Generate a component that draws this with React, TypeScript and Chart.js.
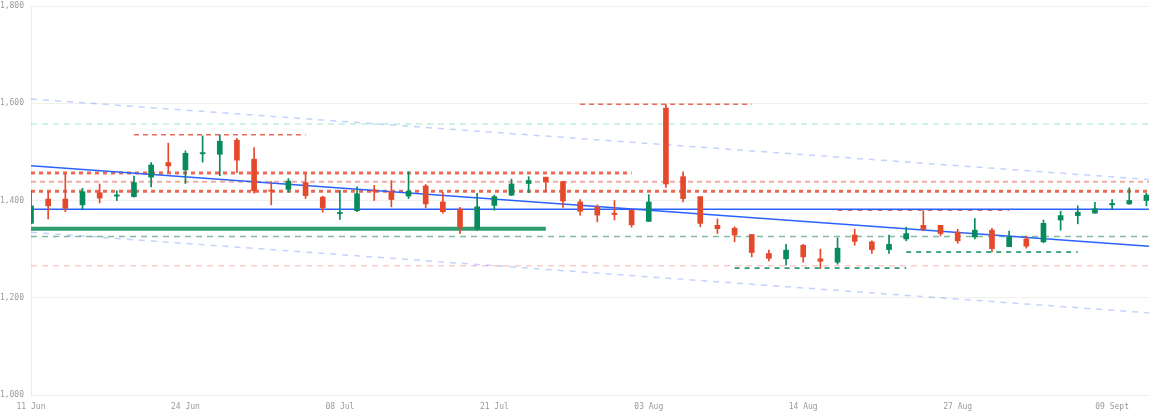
import React, { useEffect, useRef } from "react";
import { Chart, registerables } from "chart.js";

Chart.register(...registerables);

// ---- tick labels (one every 9 sessions) ----
const tickLabels = ["11 Jun", "24 Jun", "08 Jul", "21 Jul", "03 Aug", "14 Aug", "27 Aug", "09 Sept"];
const tickEvery = 9;

// ---- OHLC series ----
const opens = [
  1353, 1403, 1403, 1391, 1416, 1409, 1408, 1448, 1478, 1463,
  1496, 1495, 1524, 1485, 1421, 1423, 1437, 1407, 1373, 1379,
  1421, 1418, 1409, 1430, 1397, 1382, 1342, 1390, 1411, 1435,
  1448, 1439, 1397, 1387, 1374, 1380, 1357, 1590, 1449, 1408,
  1349, 1343, 1330, 1291, 1280, 1308, 1280, 1273, 1329, 1315,
  1299, 1321, 1349, 1349, 1335, 1325, 1339, 1305, 1321, 1315,
  1360, 1369, 1374, 1391, 1393, 1400,
];
const highs = [
  1420, 1418, 1457, 1425, 1434, 1420, 1450, 1478, 1518, 1502,
  1533, 1535, 1528, 1509, 1439, 1445, 1457, 1409, 1421, 1428,
  1431, 1441, 1459, 1433, 1417, 1386, 1415, 1411, 1444, 1449,
  1448, 1439, 1402, 1391, 1400, 1381, 1412, 1597, 1459, 1408,
  1362, 1346, 1330, 1298, 1310, 1310, 1300, 1323, 1341, 1317,
  1329, 1345, 1379, 1349, 1341, 1363, 1343, 1337, 1327, 1360,
  1378, 1389, 1396, 1402, 1426, 1415,
];
const lows = [
  1352, 1362, 1377, 1382, 1395, 1400, 1407, 1428, 1459, 1435,
  1479, 1451, 1457, 1415, 1391, 1417, 1404, 1376, 1361, 1377,
  1400, 1387, 1404, 1385, 1374, 1332, 1339, 1380, 1410, 1416,
  1418, 1386, 1370, 1356, 1360, 1345, 1357, 1427, 1397, 1346,
  1332, 1315, 1284, 1276, 1267, 1273, 1260, 1269, 1308, 1291,
  1291, 1317, 1338, 1327, 1312, 1321, 1294, 1305, 1302, 1313,
  1339, 1352, 1374, 1382, 1392, 1389,
];
const closes = [
  1389, 1389, 1384, 1418, 1405, 1411, 1437, 1473, 1471, 1497,
  1498, 1522, 1483, 1420, 1419, 1440, 1410, 1385, 1375, 1414,
  1419, 1402, 1419, 1393, 1377, 1345, 1387, 1408, 1434, 1441,
  1438, 1399, 1378, 1370, 1371, 1350, 1397, 1434, 1404, 1353,
  1342, 1329, 1293, 1281, 1298, 1284, 1275, 1302, 1316, 1299,
  1310, 1332, 1341, 1332, 1317, 1339, 1301, 1325, 1306, 1353,
  1369, 1376, 1383, 1394, 1400, 1411,
];

// ---- trend channel (values at first and last session) ----
const trendLine = [1471.6, 1306.4];
const channelUpper = [1608.7, 1443.6];
const channelLower = [1334.6, 1169.3];

// ---- horizontal levels: value, first session, last session (-1 = to the end) ----
const levelValues = [1557.3, 1456.6, 1438.7, 1419, 1382, 1342, 1326, 1266, 1535, 1598, 1380.5, 1261, 1294];
const levelFrom = [0, 0, 0, 0, 0, 0, 0, 0, 6, 32, 47, 41, 51];
const levelTo = [-1, 35, -1, -1, -1, 30, -1, -1, 16, 42, 57, 51, 61];

const UP = "#078a5c";
const DOWN = "#e5492c";
const BLUE = "#2962ff";

const levelStyles = [
  { color: "rgba(110,215,180,0.45)", width: 1.5, dash: [6, 5] },
  { color: "rgba(232,80,55,0.85)", width: 3, dash: [4, 4] },
  { color: "rgba(232,90,70,0.5)", width: 2, dash: [5, 4] },
  { color: "rgba(232,80,55,0.85)", width: 3, dash: [4, 4] },
  { color: BLUE, width: 1.5, dash: [] },
  { color: "#2e9b6d", width: 4, dash: [] },
  { color: "rgba(30,130,90,0.55)", width: 1.5, dash: [6, 5] },
  { color: "rgba(240,110,110,0.35)", width: 1.5, dash: [6, 5] },
  { color: "rgba(232,80,55,0.85)", width: 1.5, dash: [5, 4] },
  { color: "rgba(232,80,55,0.85)", width: 1.5, dash: [5, 4] },
  { color: "rgba(190,50,60,0.7)", width: 2, dash: [5, 5] },
  { color: "#0e8a5f", width: 1.5, dash: [5, 5] },
  { color: "#0e8a5f", width: 1.5, dash: [5, 5] },
];

export default function App() {
  const ref = useRef<HTMLCanvasElement | null>(null);

  useEffect(() => {
    document.body.style.margin = "0";
    const canvas = ref.current;
    if (!canvas) return;
    const lastIdx = opens.length - 1;
    const xMax = lastIdx + 0.15;
    const colors = opens.map((o, i) => (closes[i] >= o ? UP : DOWN));

    const datasets: any[] = [];

    // candle bodies and wicks (floating bars)
    datasets.push({
      type: "bar",
      data: opens.map((o, i) => ({ x: i, y: [o, closes[i]] })),
      backgroundColor: colors,
      barThickness: 5,
      minBarLength: 1.2,
      grouped: false,
      order: 0,
    });
    datasets.push({
      type: "bar",
      data: opens.map((_, i) => ({ x: i, y: [lows[i], highs[i]] })),
      backgroundColor: colors,
      barThickness: 1,
      grouped: false,
      order: 1,
    });

    const lineDs = (pts: { x: number; y: number }[], color: string, width: number, dash: number[], order: number) => ({
      type: "line",
      data: pts,
      borderColor: color,
      borderWidth: width,
      borderDash: dash,
      pointRadius: 0,
      fill: false,
      tension: 0,
      order,
    });

    levelValues.forEach((v, k) => {
      const s = levelStyles[k];
      const to = levelTo[k] < 0 ? xMax : levelTo[k];
      datasets.push(lineDs([{ x: levelFrom[k], y: v }, { x: to, y: v }], s.color, s.width, s.dash, 3));
    });

    const slope = (arr: number[]) => (arr[1] - arr[0]) / lastIdx;
    const ext = (arr: number[]) => [{ x: 0, y: arr[0] }, { x: xMax, y: arr[0] + slope(arr) * xMax }];
    datasets.push(lineDs(ext(channelUpper), "rgba(41,98,255,0.28)", 1.5, [6, 6], 3));
    datasets.push(lineDs(ext(channelLower), "rgba(41,98,255,0.28)", 1.5, [6, 6], 3));
    datasets.push(lineDs(ext(trendLine), BLUE, 1.5, [], 2));

    const font = { family: "'DejaVu Sans Mono', monospace", size: 8 };

    const chart = new Chart(canvas, {
      type: "bar",
      data: { datasets },
      options: {
        animation: false,
        responsive: false,
        maintainAspectRatio: false,
        layout: { padding: { top: 6, right: 0, bottom: 0, left: 0 } },
        plugins: { legend: { display: false }, tooltip: { enabled: false } },
        scales: {
          x: {
            type: "linear",
            min: 0,
            max: xMax,
            offset: false,
            grid: { display: false, offset: false, drawTicks: false },
            border: { display: true, color: "#ecece6" },
            afterBuildTicks: (axis: any) => {
              axis.ticks = tickLabels.map((_, k) => ({ value: k * tickEvery }));
            },
            afterFit: (axis: any) => {
              axis.height = 18;
              axis.paddingLeft = 0;
              axis.paddingRight = 0;
            },
            ticks: {
              autoSkip: false,
              maxRotation: 0,
              padding: 7,
              color: "#9a9a9a",
              font,
              callback: (v: any) => tickLabels[Math.round(Number(v) / tickEvery)] ?? "",
            },
          },
          y: {
            min: 1000,
            max: 1800,
            grid: { color: "#f1f1ec", drawTicks: false },
            border: { display: true, color: "#ecece6" },
            afterFit: (axis: any) => {
              axis.width = 31;
              axis.paddingTop = 0;
              axis.paddingBottom = 0;
            },
            ticks: {
              stepSize: 200,
              padding: 7,
              color: "#9a9a9a",
              font,
            },
          },
        },
      },
    } as any);

    return () => chart.destroy();
  }, []);

  return (
    <div style={{ width: 1149, height: 413 }}>
      <canvas ref={ref} width={1149} height={413} style={{ width: 1149, height: 413, display: "block" }} />
    </div>
  );
}
